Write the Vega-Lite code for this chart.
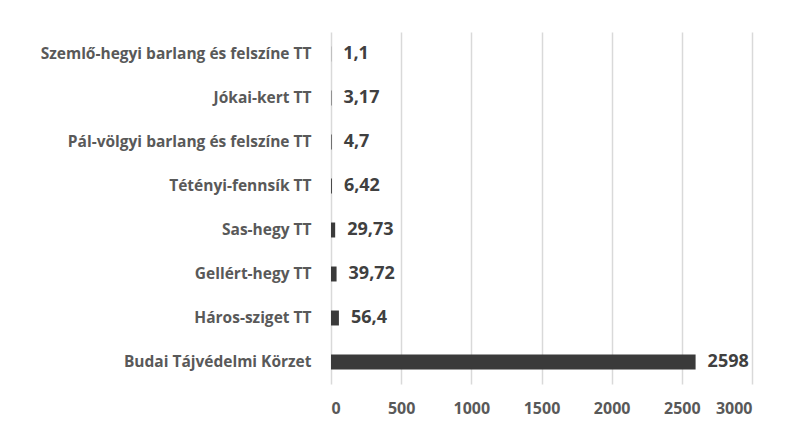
{
  "$schema": "https://vega.github.io/schema/vega-lite/v6.json",
  "autosize": {"type": "none"},
  "width": 421,
  "height": 352,
  "padding": {"left": 331, "top": 32, "right": 34, "bottom": 48},
  "background": "white",
  "data": {"values": [
    {"name": "Szemlő-hegyi barlang és felszíne TT", "value": 1.1, "label": "1,1"},
    {"name": "Jókai-kert TT", "value": 3.17, "label": "3,17"},
    {"name": "Pál-völgyi barlang és felszíne TT", "value": 4.7, "label": "4,7"},
    {"name": "Tétényi-fennsík TT", "value": 6.42, "label": "6,42"},
    {"name": "Sas-hegy TT", "value": 29.73, "label": "29,73"},
    {"name": "Gellért-hegy TT", "value": 39.72, "label": "39,72"},
    {"name": "Háros-sziget TT", "value": 56.4, "label": "56,4"},
    {"name": "Budai Tájvédelmi Körzet", "value": 2598, "label": "2598"}
  ]},
  "encoding": {
    "y": {"field": "name", "type": "nominal", "sort": null,
      "scale": {"paddingInner": 0.66, "paddingOuter": 0.33},
      "axis": {"title": null, "domain": false, "ticks": false, "labelPadding": 20, "labelLimit": 0,
        "labelFont": "Open Sans", "labelFontSize": 15.5, "labelFontWeight": "bold", "labelColor": "#595959"}},
    "x": {"field": "value", "type": "quantitative",
      "scale": {"domain": [0, 3000], "nice": false},
      "axis": {"title": null, "domain": false, "ticks": false, "values": [0,500,1000,1500,2000,2500,3000], "format": "d",
        "labelPadding": 16, "gridColor": "#d9d9d9", "gridWidth": 1.5,
        "labelFont": "Open Sans", "labelFontSize": 16, "labelFontWeight": "bold", "labelColor": "#595959"}}
  },
  "layer": [
    {"mark": {"type": "bar", "color": "#3a3a3a"}},
    {"mark": {"type": "text", "align": "left", "dx": 12, "font": "Open Sans", "fontSize": 18, "fontWeight": "bold", "color": "#404040"},
     "encoding": {"text": {"field": "label"}}}
  ],
  "config": {"view": {"stroke": null}}
}
